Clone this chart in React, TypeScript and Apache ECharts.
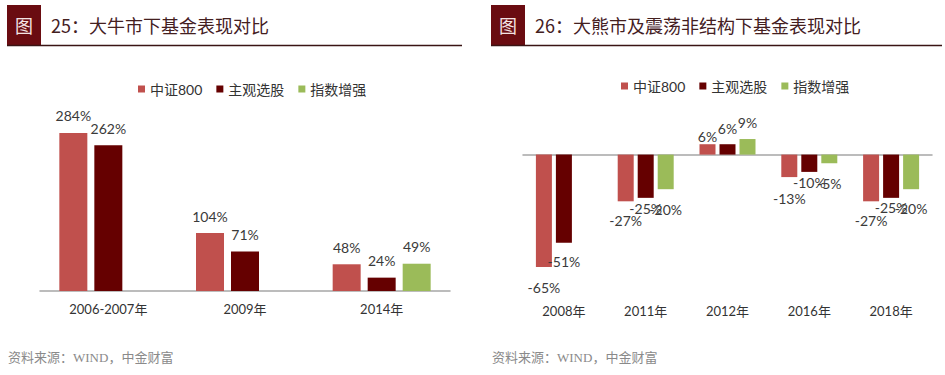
import React, { useEffect, useRef } from 'react';
import * as echarts from 'echarts';

const seriesNames = ['中证800', '主观选股', '指数增强'];
const seriesColors = ['#c0504d', '#650000', '#9bbb59'];

const bullCategories = ['2006-2007年', '2009年', '2014年'];
const bullCsi800 = [284, 104, 48];
const bullActive = [262, 71, 24];
const bullEnhanced = [null, null, 49];

const bearCategories = ['2008年', '2011年', '2012年', '2016年', '2018年'];
const bearCsi800 = [-65, -27, 6, -13, -27];
const bearActive = [-51, -25, 6, -10, -25];
const bearEnhanced = [null, -20, 9, -5, -20];

// gap in px between each bar end and its value label (right panel, as laid out in the source)
const bearLabelGaps = [
  [13, 12, 1, 14, 12],
  [12, 4, 9, 4, 3],
  [0, 13, 10, 13, 12],
];

const leftTitle = '25：大牛市下基金表现对比';
const rightTitle = '26：大熊市及震荡非结构下基金表现对比';
const sourceText = '资料来源：WIND，中金财富';

const FONT = "Lato, 'Noto Sans CJK SC', sans-serif";
const CJK = "'Noto Sans CJK SC', sans-serif";

function barSeries(
  idx: number,
  data: (number | null)[],
  xAxisIndex: number,
  yAxisIndex: number,
  barWidth: number,
  gaps: number[] | null
) {
  return {
    type: 'bar',
    name: seriesNames[idx],
    xAxisIndex,
    yAxisIndex,
    barWidth,
    barGap: '25%',
    itemStyle: { color: seriesColors[idx] },
    label: {
      show: true,
      fontSize: 14,
      color: '#3a3a3a',
      fontFamily: FONT,
      formatter: (p: any) => p.value + '%',
    },
    data: data.map((v, i) =>
      v == null
        ? null
        : {
            value: v,
            label: {
              position: v >= 0 ? 'top' : 'bottom',
              distance: gaps ? gaps[i] : 10,
            },
          }
    ),
  };
}

function header(x0: number, x1: number, title: string) {
  return [
    { type: 'rect', shape: { x: x0, y: 5, width: 34, height: 40 }, style: { fill: '#6a0c11' } },
    {
      type: 'text',
      x: x0 + 17,
      y: 25,
      style: { text: '图', fill: '#f3e3e3', fontSize: 18, fontFamily: CJK, textAlign: 'center', textVerticalAlign: 'middle' },
    },
    {
      type: 'text',
      x: x0 + 44,
      y: 25,
      style: { text: title, fill: '#44201f', fontSize: 18, fontFamily: CJK, textAlign: 'left', textVerticalAlign: 'middle' },
    },
    { type: 'line', shape: { x1: x0, y1: 45.5, x2: x1, y2: 45.5 }, style: { stroke: '#3a1414', lineWidth: 1.5 } },
    {
      type: 'text',
      x: x0 + 1,
      y: 357,
      style: { text: sourceText, fill: '#8a8a8a', fontSize: 13, fontFamily: "'Liberation Serif', 'Noto Sans CJK SC', serif", textAlign: 'left', textVerticalAlign: 'middle' },
    },
  ];
}

export default function App() {
  const ref = useRef<HTMLDivElement>(null);
  useEffect(() => {
    if (!ref.current) return;
    const chart = echarts.init(ref.current, undefined, { renderer: 'svg' });
    const legendCommon = {
      data: seriesNames,
      icon: 'rect',
      itemWidth: 7,
      itemHeight: 7,
      itemGap: 14,
      padding: 0,
      textStyle: { fontSize: 14, color: '#333', fontFamily: FONT },
    };
    chart.setOption({
      animation: false,
      backgroundColor: '#ffffff',
      legend: [
        { ...legendCommon, left: 138, top: 82 },
        { ...legendCommon, left: 621, top: 79 },
      ],
      grid: [
        { left: 40, width: 410, top: 124, height: 167 },
        { left: 523, width: 409, top: 120, height: 173 },
      ],
      xAxis: [
        {
          type: 'category',
          gridIndex: 0,
          data: bullCategories,
          axisLine: { lineStyle: { color: '#a6a6a6', width: 1.5 } },
          axisTick: { show: false },
          axisLabel: { fontSize: 13, color: '#333', fontFamily: FONT, margin: 11 },
        },
        {
          type: 'category',
          gridIndex: 1,
          data: bearCategories,
          position: 'bottom',
          axisLine: { show: false, onZero: false },
          axisTick: { show: false },
          axisLabel: { fontSize: 13, color: '#333', fontFamily: FONT, margin: 11 },
        },
        {
          type: 'category',
          gridIndex: 1,
          data: bearCategories,
          position: 'bottom',
          axisLine: { show: true, onZero: true, lineStyle: { color: '#a6a6a6', width: 1.5 } },
          axisTick: { show: false },
          axisLabel: { show: false },
        },
      ],
      yAxis: [
        { type: 'value', gridIndex: 0, min: 0, max: 300, show: false, splitLine: { show: false } },
        { type: 'value', gridIndex: 1, min: -80, max: 20, show: false, splitLine: { show: false } },
      ],
      series: [
        barSeries(0, bullCsi800, 0, 0, 28, null),
        barSeries(1, bullActive, 0, 0, 28, null),
        barSeries(2, bullEnhanced, 0, 0, 28, null),
        barSeries(0, bearCsi800, 1, 1, 16, bearLabelGaps[0]),
        barSeries(1, bearActive, 1, 1, 16, bearLabelGaps[1]),
        barSeries(2, bearEnhanced, 1, 1, 16, bearLabelGaps[2]),
      ],
      graphic: [...header(7, 462, leftTitle), ...header(491, 942, rightTitle)],
    });
    return () => chart.dispose();
  }, []);
  return (
    <div
      ref={ref}
      style={{ position: 'absolute', left: 0, top: 0, width: 945, height: 375, background: '#fff' }}
    />
  );
}
